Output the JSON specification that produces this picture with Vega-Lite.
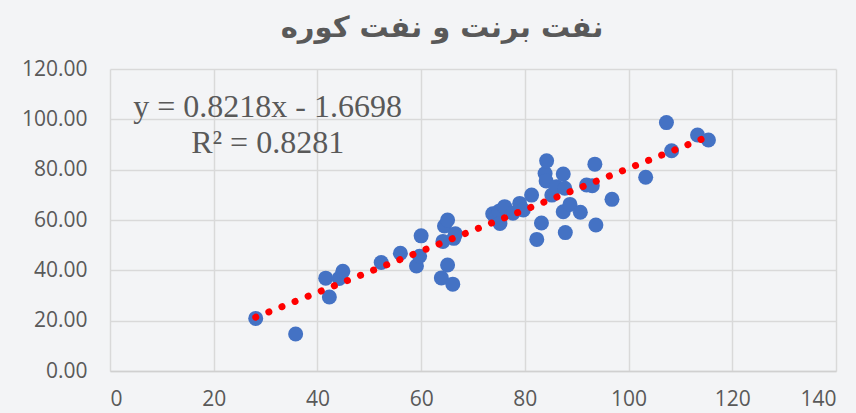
{
  "$schema": "https://vega.github.io/schema/vega-lite/v6.json",
  "width": 726,
  "height": 302,
  "autosize": "none",
  "padding": {"left": 110, "top": 69, "right": 20, "bottom": 42},
  "background": "#f3f4f6",
  "title": {
    "text": "نفت برنت و نفت کوره",
    "font": "DejaVu Sans",
    "fontSize": 29,
    "fontWeight": "bold",
    "color": "#595959",
    "anchor": "middle",
    "dx": -31,
    "offset": 15
  },
  "config": {
    "view": {"stroke": null},
    "axis": {
      "labelFont": "Open Sans",
      "labelFontSize": 21,
      "labelColor": "#595959",
      "gridColor": "#d9d9d9",
      "gridWidth": 1.5,
      "ticks": false,
      "title": null
    }
  },
  "datasets": {
    "points": [
      {"brent": 28.1, "fuel": 20.9},
      {"brent": 35.8, "fuel": 14.7},
      {"brent": 41.6, "fuel": 36.9},
      {"brent": 42.3, "fuel": 29.4},
      {"brent": 44.2, "fuel": 36.8},
      {"brent": 44.9, "fuel": 39.6},
      {"brent": 52.3, "fuel": 43.1},
      {"brent": 56.0, "fuel": 46.8},
      {"brent": 59.1, "fuel": 41.7},
      {"brent": 59.7, "fuel": 45.6},
      {"brent": 60.0, "fuel": 53.7},
      {"brent": 63.9, "fuel": 37.0},
      {"brent": 64.2, "fuel": 51.5},
      {"brent": 64.5, "fuel": 57.6},
      {"brent": 65.1, "fuel": 60.0},
      {"brent": 65.1, "fuel": 42.1},
      {"brent": 66.1, "fuel": 34.5},
      {"brent": 66.3, "fuel": 52.7},
      {"brent": 66.6, "fuel": 54.5},
      {"brent": 73.8, "fuel": 62.5},
      {"brent": 74.3, "fuel": 61.0},
      {"brent": 75.0, "fuel": 63.5},
      {"brent": 75.2, "fuel": 58.6},
      {"brent": 76.1, "fuel": 65.3},
      {"brent": 77.7, "fuel": 62.7},
      {"brent": 79.0, "fuel": 66.6},
      {"brent": 79.7, "fuel": 64.0},
      {"brent": 81.3, "fuel": 69.9},
      {"brent": 82.3, "fuel": 52.3},
      {"brent": 83.2, "fuel": 58.8},
      {"brent": 83.9, "fuel": 78.5},
      {"brent": 84.1, "fuel": 75.5},
      {"brent": 84.2, "fuel": 83.5},
      {"brent": 85.2, "fuel": 69.9},
      {"brent": 86.1, "fuel": 73.2},
      {"brent": 87.4, "fuel": 78.3},
      {"brent": 87.7, "fuel": 72.6},
      {"brent": 87.4, "fuel": 63.3},
      {"brent": 87.8, "fuel": 55.0},
      {"brent": 88.7, "fuel": 66.2},
      {"brent": 90.7, "fuel": 63.1},
      {"brent": 91.9, "fuel": 73.9},
      {"brent": 93.0, "fuel": 73.6},
      {"brent": 93.5, "fuel": 82.2},
      {"brent": 93.7, "fuel": 58.0},
      {"brent": 96.8, "fuel": 68.2},
      {"brent": 103.3, "fuel": 77.0},
      {"brent": 107.3, "fuel": 98.7},
      {"brent": 108.3, "fuel": 87.5},
      {"brent": 113.3, "fuel": 93.8},
      {"brent": 115.4, "fuel": 91.8}
    ],
    "trend": [
      {"brent": 28.1, "fuel": 21.4},
      {"brent": 115.4, "fuel": 93.2}
    ],
    "labels": [
      {"brent": 30.4, "fuel": 104.9, "text": "y = 0.8218x - 1.6698"},
      {"brent": 30.4, "fuel": 90.6, "text": "R² = 0.8281"}
    ]
  },
  "encoding": {
    "x": {
      "field": "brent",
      "type": "quantitative",
      "scale": {"domain": [0, 140], "nice": false, "zero": false},
      "axis": {"values": [0, 20, 40, 60, 80, 100, 120, 140], "labelPadding": 17, "domain": true, "domainColor": "#d0d0d0", "domainWidth": 1.5}
    },
    "y": {
      "field": "fuel",
      "type": "quantitative",
      "scale": {"domain": [0, 120], "nice": false},
      "axis": {"values": [0, 20, 40, 60, 80, 100, 120], "format": ".2f", "labelPadding": 23, "domain": false}
    }
  },
  "layer": [
    {
      "data": {"name": "points"},
      "mark": {"type": "point", "filled": true, "shape": "circle", "size": 225, "color": "#4472c4", "opacity": 1}
    },
    {
      "data": {"name": "trend"},
      "mark": {"type": "line", "color": "#ff0000", "strokeWidth": 7, "strokeCap": "round", "strokeDash": [0.1, 14]}
    },
    {
      "data": {"name": "labels"},
      "mark": {"type": "text", "font": "Liberation Serif", "fontSize": 32, "color": "#595959", "align": "center", "baseline": "middle"},
      "encoding": {"text": {"field": "text"}}
    }
  ]
}
